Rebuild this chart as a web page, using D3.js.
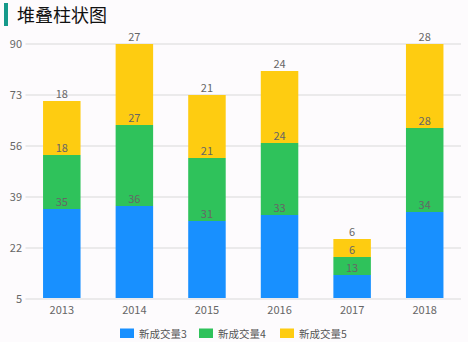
<!DOCTYPE html>
<html><head><meta charset="utf-8">
<script src="https://cdn.jsdelivr.net/npm/d3@7"></script>
<style>
html,body{margin:0;padding:0;background:#fdfbfd;}
svg{display:block;font-family:"Noto Sans CJK SC","Noto Sans",sans-serif;}
</style></head>
<body><svg id="chart" width="468" height="342"></svg>
<script>
const categories = ["2013","2014","2015","2016","2017","2018"];
const seriesNames = ["新成交量3","新成交量4","新成交量5"];
const series3 = [35,36,31,33,13,34];
const series4 = [18,27,21,24,6,28];
const series5 = [18,27,21,24,6,28];
const yTicks = [5,22,39,56,73,90];
const colors = ["#1890ff","#2fc25b","#fecc11"];

const svg = d3.select("#chart");
const W = 468, H = 342;
const m = {left:25.5, right:7, top:44, bottom:43};
const x = d3.scaleBand().domain(categories).range([m.left, W - m.right]).paddingInner(0).paddingOuter(0);
const y = d3.scaleLinear().domain([5,90]).range([H - m.bottom, m.top]);

// title
svg.append("rect").attr("x",4).attr("y",3).attr("width",4).attr("height",23).attr("fill","#16998a");
svg.append("text").attr("x",17).attr("y",22).attr("font-size",18).attr("fill","#111").text("堆叠柱状图");

// grid
svg.append("g").selectAll("line").data(yTicks).join("line")
  .attr("x1",m.left).attr("x2",W - m.right)
  .attr("y1",d=>y(d)).attr("y2",d=>y(d))
  .attr("stroke","#e5e5e5").attr("stroke-width",1.5);
svg.append("g").selectAll("text").data(yTicks).join("text")
  .attr("x",22).attr("y",d=>y(d)+4).attr("text-anchor","end")
  .attr("font-size",11).attr("fill","#666").text(d=>d);

// stacked data
const rows = categories.map((c,i)=>({cat:c, s3:series3[i], s4:series4[i], s5:series5[i]}));
const stack = d3.stack().keys(["s3","s4","s5"])(rows);
const bw = 37.5;
const g = svg.append("g");
stack.forEach((layer,k)=>{
  g.selectAll(null).data(layer).join("rect")
    .attr("x",d=>x(d.data.cat)+x.bandwidth()/2-bw/2)
    .attr("width",bw)
    .attr("y",d=>y(d[1]))
    .attr("height",d=>y(k===0?5:d[0]) - y(d[1]) - (k===0?1:0))
    .attr("fill",colors[k]);
});
stack.forEach((layer,k)=>{
  g.selectAll(null).data(layer).join("text")
    .attr("x",d=>x(d.data.cat)+x.bandwidth()/2)
    .attr("y",d=>y(d[1])-3)
    .attr("text-anchor","middle").attr("font-size",11).attr("fill","#666")
    .text(d=>d[1]-d[0]);
});

// x axis labels
svg.append("g").selectAll("text").data(categories).join("text")
  .attr("x",d=>x(d)+x.bandwidth()/2).attr("y",H-m.bottom+15)
  .attr("text-anchor","middle").attr("font-size",11).attr("fill","#666").text(d=>d);

// legend
const lx = [120,199,280];
const leg = svg.append("g");
seriesNames.forEach((n,i)=>{
  leg.append("rect").attr("x",lx[i]).attr("y",328.5).attr("width",14).attr("height",9.5).attr("fill",colors[i]);
  leg.append("text").attr("x",lx[i]+19).attr("y",337.5).attr("font-size",10.5).attr("fill","#555").text(n);
});
</script></body></html>
